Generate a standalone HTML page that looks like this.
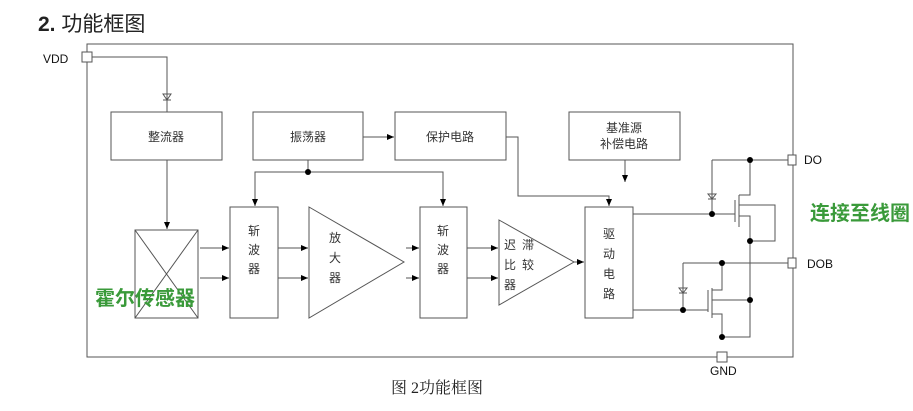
<!DOCTYPE html>
<html><head><meta charset="utf-8"><style>
body{margin:0;background:#fff;width:913px;height:406px;overflow:hidden}
svg text{font-family:"Liberation Sans","Noto Sans CJK SC",sans-serif}
</style></head><body>
<svg width="913" height="406" viewBox="0 0 913 406" xmlns="http://www.w3.org/2000/svg">
<defs><marker id="a" markerWidth="8" markerHeight="8" refX="7" refY="4" orient="auto" markerUnits="userSpaceOnUse"><path d="M0,1 L7,4 L0,7z" fill="#000"/></marker></defs>
<text x="38" y="31" font-size="21" fill="#222"><tspan font-weight="bold">2.</tspan> 功能框图</text>
<g fill="none" stroke="#555" stroke-width="1">
<path d="M87,62 V357 H717 M727,357 H793 V44 H87 V52"/>
<rect x="82" y="52" width="10" height="10" fill="#fff"/>
<rect x="717" y="352" width="10" height="10" fill="#fff"/>
<rect x="111" y="112" width="111" height="48"/>
<rect x="253" y="112" width="110" height="48"/>
<rect x="395" y="112" width="111" height="48"/>
<rect x="569" y="112" width="111" height="48"/>
<rect x="135" y="230" width="63" height="88"/>
<path d="M135,230 L198,318 M198,230 L135,318"/>
<rect x="230" y="207" width="48" height="111"/>
<path d="M309,207 L404,262 L309,318Z"/>
<rect x="420" y="207" width="47" height="111"/>
<path d="M499,220 L574,262 L499,305Z"/>
<rect x="585" y="207" width="48" height="111"/>
<path d="M92,57 H167 V112"/>
<path d="M163,94 H171 L167,100Z M163,100 H171"/>
<path d="M167,160 V229" marker-end="url(#a)"/>
<path d="M308,160 V172 M308,172 H255 V206" marker-end="url(#a)"/>
<path d="M308,172 H443 V206" marker-end="url(#a)"/>
<path d="M363,137 H394" marker-end="url(#a)"/>
<path d="M506,137 H518 V196 H609 V206" marker-end="url(#a)"/>
<path d="M625,160 V182" marker-end="url(#a)"/>
<path d="M200,248 H229" marker-end="url(#a)"/>
<path d="M200,278 H229" marker-end="url(#a)"/>
<path d="M278,248 H308" marker-end="url(#a)"/>
<path d="M278,278 H308" marker-end="url(#a)"/>
<path d="M406,248 H419" marker-end="url(#a)"/>
<path d="M406,278 H419" marker-end="url(#a)"/>
<path d="M467,248 H498" marker-end="url(#a)"/>
<path d="M467,278 H498" marker-end="url(#a)"/>
<path d="M574,262 H584" marker-end="url(#a)"/>
<path d="M633,214 H735 M633,310 H708"/>
<path d="M712,160 H788 M712,160 V214 M750,160 V195 H739 M735,200 V222 M739,195 V227 M739,216 H750 V337 H722 M739,205 H775 V241 H750"/>
<path d="M708,194 H716 L712,199Z M708,199 H716"/>
<path d="M683,263 H788 M683,263 V310 M722,263 V290 H712 M708,290 V312 M712,288 V318 M712,314 H722 V337 M712,300 H750"/>
<path d="M679,288 H687 L683,293Z M679,293 H687"/>
<rect x="788" y="155" width="8" height="10" fill="#fff"/>
<rect x="788" y="258" width="8" height="10" fill="#fff"/>
</g>
<g fill="#000"><circle cx="308" cy="172" r="3"/><circle cx="750" cy="160" r="3"/><circle cx="712" cy="214" r="3"/><circle cx="750" cy="241" r="3"/><circle cx="722" cy="263" r="3"/><circle cx="750" cy="300" r="3"/><circle cx="722" cy="337" r="3"/><circle cx="683" cy="310" r="3"/></g>
<g font-size="12" fill="#333" text-anchor="middle">
<text x="166" y="141">整流器</text><text x="308" y="141">振荡器</text><text x="450" y="141">保护电路</text>
<text x="624" y="132">基准源</text><text x="624" y="148">补偿电路</text>
<text x="254" y="235">斩</text><text x="254" y="254">波</text><text x="254" y="273">器</text>
<text x="443" y="235">斩</text><text x="443" y="254">波</text><text x="443" y="273">器</text>
<text x="335" y="242">放</text><text x="335" y="262">大</text><text x="335" y="282">器</text>
<text x="510" y="249">迟</text><text x="528" y="249">滞</text><text x="510" y="269">比</text><text x="528" y="269">较</text><text x="510" y="289">器</text>
<text x="609" y="238">驱</text><text x="609" y="258">动</text><text x="609" y="278">电</text><text x="609" y="298">路</text>
</g>
<g font-size="12" fill="#111">
<text x="43" y="63">VDD</text><text x="804" y="164">DO</text><text x="807" y="268">DOB</text><text x="710" y="375">GND</text>
</g>
<text x="95" y="305" font-size="20" font-weight="bold" fill="#3a9a3a">霍尔传感器</text>
<text x="810" y="220" font-size="20" font-weight="bold" fill="#3a9a3a">连接至线圈</text>
<text x="437" y="393" font-size="16" fill="#222" text-anchor="middle" style="font-family:'Liberation Serif','Noto Serif CJK SC',serif">图 2功能框图</text>
</svg>
</body></html>
